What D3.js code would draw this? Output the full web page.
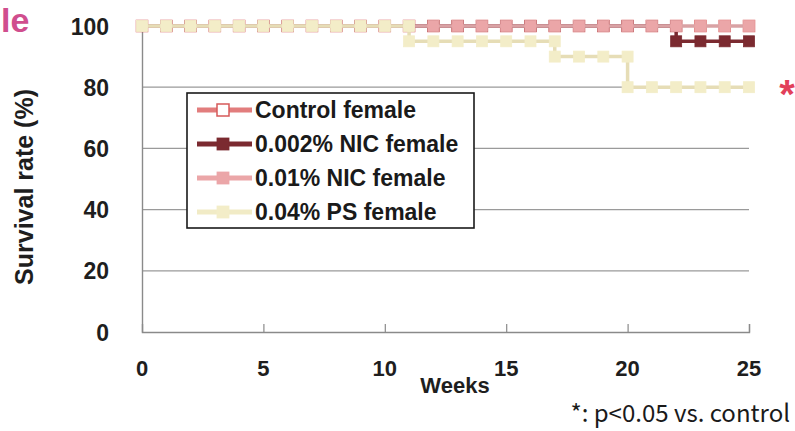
<!DOCTYPE html>
<html>
<head>
<meta charset="utf-8">
<script src="https://cdn.jsdelivr.net/npm/d3@7"></script>
<style>
  html, body { margin: 0; padding: 0; background: #fff; }
  svg { display: block; }
</style>
</head>
<body>
<script>
// Survival (%) by week for each female group
const weeks   = [0,1,2,3,4,5,6,7,8,9,10,11,12,13,14,15,16,17,18,19,20,21,22,23,24,25];
const control = [100,100,100,100,100,100,100,100,100,100,100,100,100,100,100,100,100,100,100,100,100,100,100,100,100,100];
const nic002  = [100,100,100,100,100,100,100,100,100,100,100,100,100,100,100,100,100,100,100,100,100,100,95,95,95,95];
const nic01   = [100,100,100,100,100,100,100,100,100,100,100,100,100,100,100,100,100,100,100,100,100,100,100,100,100,100];
const ps04    = [100,100,100,100,100,100,100,100,100,100,100,95,95,95,95,95,95,90,90,90,80,80,80,80,80,80];

const seriesNames = ["Control female", "0.002% NIC female", "0.01% NIC female", "0.04% PS female"];
const yTicks = [0, 20, 40, 60, 80, 100];
const xTicks = [0, 5, 10, 15, 20, 25];
const gridValues = [20, 40, 60, 80];

const styles = [
  { line: "#e07a7a", lineW: 2,   fill: "#ffffff", stroke: "#d65a5a", legendLine: "#e27d7d" },
  { line: "#7b2a30", lineW: 3.5, fill: "#7b2a30", stroke: "#7b2a30", legendLine: "#7b2a30" },
  { line: "#d9a2a4", lineW: 3.5, fill: "#eba6a8", stroke: "#eba6a8", legendLine: "#eba6a8" },
  { line: "#e6ddb6", lineW: 3.5, fill: "#f3edc8", stroke: "#f3edc8", legendLine: "#f1ebc6" }
];
const seriesValues = [control, nic002, nic01, ps04];

const W = 795, H = 431;
const svg = d3.select("body").append("svg").attr("width", W).attr("height", H);

const x = d3.scaleLinear().domain([0, 25]).range([142, 749]);
const y = d3.scaleLinear().domain([0, 100]).range([332, 26]);

const bold = "'Liberation Sans', Arial, sans-serif";

// panel letter fragment
svg.append("text")
  .attr("x", 1).attr("y", 32)
  .attr("font-family", bold).attr("font-weight", "bold").attr("font-size", 34)
  .attr("fill", "#d04e8e")
  .text("le");

// horizontal gridlines
svg.append("g").selectAll("line").data(gridValues).join("line")
  .attr("x1", x(0)).attr("x2", x(25))
  .attr("y1", d => y(d)).attr("y2", d => y(d))
  .attr("stroke", "#9a9a9a").attr("stroke-width", 1.2);

// axes
const xAxis = d3.axisBottom(x).tickValues(xTicks.filter(d => d > 0)).tickSize(-8).tickFormat("");
svg.append("g").attr("transform", `translate(0,${y(0)})`).call(xAxis)
  .call(g => g.select(".domain").attr("stroke", "#8a8a8a").attr("stroke-width", 1.4))
  .call(g => g.selectAll(".tick line").attr("stroke", "#8a8a8a").attr("stroke-width", 1.2));

const yAxis = d3.axisLeft(y).tickValues(yTicks).tickSize(0).tickPadding(33)
  .tickFormat(d3.format("d"));
svg.append("g").attr("transform", `translate(${x(0)},0)`).call(yAxis)
  .call(g => g.select(".domain").attr("stroke", "#8a8a8a").attr("stroke-width", 1.4))
  .call(g => g.selectAll(".tick text")
    .attr("font-family", bold).attr("font-weight", "bold").attr("font-size", 23)
    .attr("fill", "#1e1e1e").attr("dy", "0.35em"));

// x tick labels
svg.append("g").selectAll("text").data(xTicks).join("text")
  .attr("x", d => x(d)).attr("y", 376)
  .attr("text-anchor", "middle")
  .attr("font-family", bold).attr("font-weight", "bold").attr("font-size", 22)
  .attr("fill", "#1e1e1e")
  .text(d => d);

svg.append("text")
  .attr("x", 455).attr("y", 393)
  .attr("text-anchor", "middle")
  .attr("font-family", bold).attr("font-weight", "bold").attr("font-size", 22)
  .attr("fill", "#1e1e1e")
  .text("Weeks");

svg.append("text")
  .attr("transform", "translate(33,187) rotate(-90)")
  .attr("text-anchor", "middle")
  .attr("font-family", bold).attr("font-weight", "bold").attr("font-size", 25)
  .attr("fill", "#1e1e1e")
  .text("Survival rate (%)");

// survival step curves with markers at every week and at each drop
const line = d3.line().x(d => x(d[0])).y(d => y(d[1])).curve(d3.curveStepAfter);
const mk = 11;

seriesValues.forEach((vals, i) => {
  const st = styles[i];
  const pts = weeks.map((w, j) => [w, vals[j]]);
  const g = svg.append("g");
  g.append("path").datum(pts)
    .attr("d", line).attr("fill", "none")
    .attr("stroke", st.line).attr("stroke-width", st.lineW);
  const markers = [];
  pts.forEach((p, j) => {
    if (j > 0 && vals[j] !== vals[j - 1]) markers.push([p[0], vals[j - 1]]);
    markers.push(p);
  });
  g.selectAll("rect").data(markers).join("rect")
    .attr("x", d => x(d[0]) - mk / 2).attr("y", d => y(d[1]) - mk / 2)
    .attr("width", mk).attr("height", mk)
    .attr("fill", st.fill).attr("stroke", st.stroke).attr("stroke-width", i === 0 ? 1.5 : 0.8);
});

// significance mark
svg.append("text")
  .attr("x", 787).attr("y", 108)
  .attr("text-anchor", "middle")
  .attr("font-family", bold).attr("font-weight", "bold").attr("font-size", 40)
  .attr("fill", "#e2405a")
  .text("*");

// legend
const lg = svg.append("g");
lg.append("rect")
  .attr("x", 187).attr("y", 93).attr("width", 287).attr("height", 135)
  .attr("fill", "#fff").attr("stroke", "#1a1a1a").attr("stroke-width", 1.6);
const rowY = [110, 144, 178, 212];
seriesNames.forEach((name, i) => {
  const st = styles[i];
  const ry = rowY[i];
  lg.append("line")
    .attr("x1", 197).attr("x2", 252).attr("y1", ry).attr("y2", ry)
    .attr("stroke", st.legendLine).attr("stroke-width", 5);
  lg.append("rect")
    .attr("x", 223 - 6).attr("y", ry - 6).attr("width", 12).attr("height", 12)
    .attr("fill", st.fill).attr("stroke", st.stroke).attr("stroke-width", i === 0 ? 1.5 : 0.8);
  lg.append("text")
    .attr("x", 255).attr("y", ry).attr("dy", "0.36em")
    .attr("font-family", bold).attr("font-weight", "bold").attr("font-size", 23)
    .attr("fill", "#1a1a1a")
    .text(name);
});

// footnote
svg.append("text")
  .attr("x", 790).attr("y", 422)
  .attr("text-anchor", "end")
  .attr("font-family", "'Noto Sans CJK JP', sans-serif").attr("font-size", 24)
  .attr("fill", "#1a1a1a")
  .text("*: p<0.05 vs. control");
</script>
</body>
</html>
